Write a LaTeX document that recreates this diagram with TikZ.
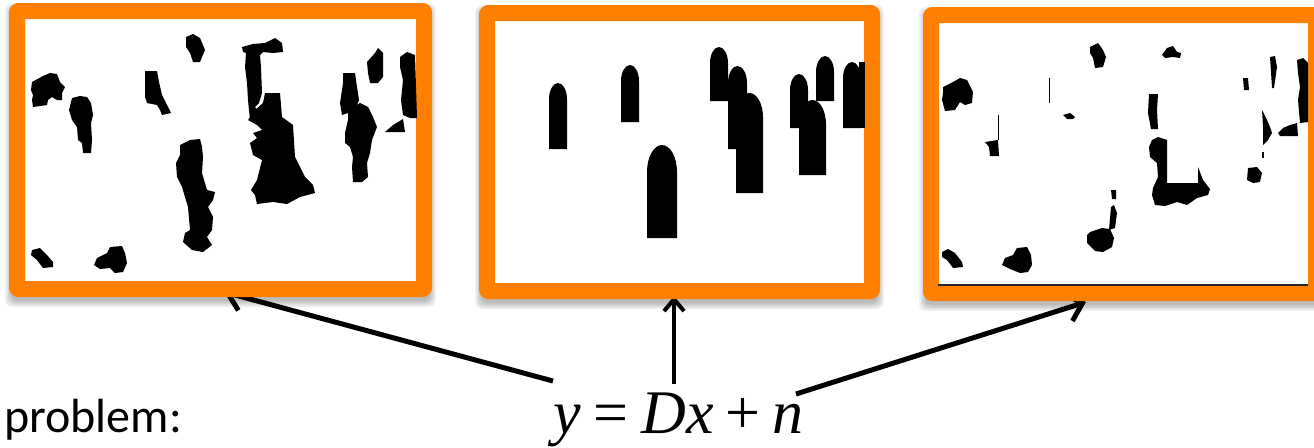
\documentclass[tikz,border=0pt]{standalone}
\usepackage{fontspec}
\newfontfamily\eqfont{Liberation Serif}
\newfontfamily\labfont{Carlito}
\usetikzlibrary{arrows.meta,backgrounds}
\definecolor{frameorange}{RGB}{255,128,0}
\tikzset{
  frame/.style={draw=frameorange, line width=16pt, line join=round, rounded corners=1pt, fill=white, inner sep=0pt, outer sep=0pt},
  shadowpiece/.style={fill=black, fill opacity=0.06, draw=none, rounded corners=7pt},
  blob/.style={fill=black},
  bigarrow/.style={line width=5pt, -{Straight Barb[length=15pt,width=28pt]}},
  smallarrow/.style={line width=4pt, -{Straight Barb[length=12pt,width=20pt]}},
}
\newcommand\tombstone[4]{%
  \fill[blob] (#1,#4) -- (#1,{#2+0.9*#3}) arc[start angle=180,end angle=0,x radius={0.5*#3 pt},y radius={0.9*#3 pt}] -- ({#1+#3},#4) -- cycle;}
\newcommand\softshadow[4]{%
  \foreach \k in {0,1.5,3,4.5,6}{\fill[shadowpiece] ({#1-\k+2},{#2+6-\k}) rectangle ({#3+\k-2},{#4+4+\k});}}
\begin{document}
\begin{tikzpicture}[x=1pt,y=-1pt]
\useasboundingbox (0,0) rectangle (1314,447);

% frames
\node[frame, minimum width=407pt, minimum height=278pt] (f1) at (220.5,150) {};
\node[frame, minimum width=385pt, minimum height=278pt] (f2) at (679.5,152) {};
\node[frame, minimum width=385pt, minimum height=278pt] (f3) at (1123.5,154) {};
\draw[line width=1.5pt, black!85] (f3.south west) ++(7pt,8pt) coordinate (l3a) -- ++(370pt,0pt);

% texts
\node[anchor=base west, inner sep=0pt, font=\labfont\fontsize{48}{52}\selectfont] (prob) at (4,432) {problem:};
\node[anchor=base west, inner sep=0pt, font=\eqfont\fontsize{62}{66}\selectfont] (eq) at (553,433)
  {\itshape y\hspace{13pt}\upshape=\hspace{13pt}\itshape Dx\hspace{12pt}\upshape+\hspace{12pt}\itshape n};

\coordinate (s1) at (553,381);
\coordinate (t1) at (224,292);
\coordinate (s2) at (674,384);
\coordinate (t2) at (674,296);
\coordinate (s3) at (796,394);
\coordinate (t3) at (1086,302);
\begin{pgfonlayer}{background}
\softshadow{9}{3}{432}{297}
\softshadow{479}{5}{880}{299}
\softshadow{923}{7}{1324}{301}
\draw[bigarrow] (s1) -- (t1);
\draw[smallarrow] (s2) -- (t2);
\draw[bigarrow] (s3) -- (t3);
\end{pgfonlayer}

% ---------- left frame blobs ----------
\fill[blob] (32,82)--(43,76)--(50,73)--(57,74)--(60,82)--(65,87)--(62,93)--(62,100)--(57,100)--(52,97)--(48,100)--(47,105)--(33,107)--(32,100)--(33,95)--(31,90)--cycle;
\fill[blob] (72,98)--(80,96)--(87,97)--(91,103)--(93,115)--(91,123)--(92,140)--(91,153)--(83,153)--(82,143)--(78,140)--(77,127)--(72,120)--(69,110)--cycle;
\fill[blob] (145,71)--(157,71)--(159,82)--(162,95)--(167,105)--(171,113)--(162,115)--(160,110)--(157,105)--(147,103)--(145,97)--cycle;
\fill[blob] (186,37)--(193,34)--(200,38)--(205,50)--(200,62)--(193,62)--(190,53)--(186,47)--cycle;
\fill[blob] (180,145)--(190,140)--(200,139)--(202,147)--(203,157)--(202,173)--(207,190)--(215,192)--(213,200)--(208,207)--(213,217)--(212,230)--(207,237)--(212,245)--(203,252)--(192,250)--(183,242)--(185,233)--(190,230)--(188,207)--(182,187)--(177,177)--(176,163)--(180,155)--cycle;
\fill[blob] (242,47)--(253,44)--(265,43)--(275,38)--(282,43)--(283,52)--(273,53)--(263,52)--(260,55)--(261,67)--(262,93)--(259,103)--(255,107)--(257,110)--(250,120)--(248,100)--(247,83)--(245,67)--(246,53)--(243,52)--cycle;
\fill[blob] (265,93)--(280,93)--(282,117)--(293,125)--(295,157)--(305,177)--(313,185)--(315,193)--(300,197)--(287,204)--(273,202)--(257,204)--(255,195)--(251,190)--(257,180)--(262,160)--(253,155)--(250,143)--(257,138)--(253,133)--(262,130)--(257,125)--(248,120)--(255,110)--(263,103)--cycle;
\fill[blob] (343,73)--(355,73)--(357,87)--(359,100)--(357,105)--(348,113)--(342,115)--(340,103)--(342,90)--(343,83)--cycle;
\fill[blob] (348,110)--(360,103)--(368,107)--(373,117)--(377,127)--(372,140)--(370,153)--(367,163)--(368,177)--(362,182)--(353,182)--(352,167)--(353,157)--(350,147)--(345,143)--(345,133)--(348,120)--cycle;
\fill[blob] (367,62)--(375,53)--(378,48)--(383,53)--(383,77)--(378,83)--(370,83)--(368,73)--cycle;
\fill[blob] (400,57)--(407,52)--(415,55)--(417,118)--(410,118)--(403,115)--(401,100)--(403,80)--(400,67)--cycle;
\fill[blob] (385,132)--(393,125)--(403,119)--(405,132)--cycle;
\fill[blob] (32,250)--(40,248)--(47,255)--(53,262)--(53,267)--(43,268)--(37,260)--(31,255)--cycle;
\fill[blob] (97,258)--(107,253)--(110,247)--(122,246)--(125,253)--(127,263)--(123,272)--(115,273)--(110,268)--(100,269)--(94,265)--cycle;

% ---------- middle frame blobs ----------
\tombstone{549}{83}{18}{149}
\tombstone{621}{65}{18}{122}
\tombstone{647}{145}{30}{238}
\tombstone{710}{47}{18}{101}
\tombstone{728}{66}{19}{149}
\tombstone{736}{93}{27}{193}
\tombstone{790}{74}{18}{128}
\tombstone{799}{100}{27}{175}
\tombstone{816}{56}{18}{101}
\tombstone{843}{62}{18}{128}
\fill[blob] (859,62) rectangle (865,128);

% ---------- right frame blobs ----------
\fill[blob] (943,87)--(953,82)--(960,78)--(967,80)--(970,86)--(973,92)--(972,103)--(965,105)--(960,102)--(955,110)--(945,111)--(942,100)--(943,93)--cycle;
\fill[blob] (1090,47)--(1098,43)--(1103,50)--(1106,57)--(1103,67)--(1095,68)--(1093,58)--(1090,53)--cycle;
\fill[blob] (1162,55)--(1167,48)--(1173,46)--(1177,52)--(1181,53)--(1180,58)--(1173,57)--(1165,58)--cycle;
\fill[blob] (985,142)--(998,140)--(999,156)--(990,156)--(989,147)--cycle;
\fill[blob] (997.5,115) rectangle (998.5,140);
\fill[blob] (1048.5,78) rectangle (1049.5,103);
\fill[blob] (1063,115)--(1070,113)--(1075,117)--(1073,119)--(1067,119)--cycle;
\fill[blob] (1149,94)--(1158,94)--(1157,110)--(1158,129)--(1151,129)--(1148,113)--cycle;
\fill[blob] (1152,140)--(1158,137)--(1167,140)--(1167,183)--(1198,183)--(1198,167)--(1203,180)--(1210,189)--(1208,195)--(1197,198)--(1187,205)--(1177,202)--(1165,206)--(1155,205)--(1152,195)--(1153,188)--(1158,177)--(1157,163)--(1150,157)--(1149,147)--cycle;
\fill[blob] (1262,110)--(1267,120)--(1270,127)--(1272,133)--(1268,140)--(1263,145)--(1263,127)--cycle;
\fill[blob] (1262,152) rectangle (1263.5,158);
\fill[blob] (1278,133)--(1283,128)--(1290,125)--(1297,123)--(1298,136)--(1280,136)--cycle;
\fill[blob] (1297,60)--(1303,58)--(1308,63)--(1308,122)--(1300,123)--(1298,100)--(1300,87)--(1298,73)--cycle;
\fill[blob] (1270,57)--(1275,56)--(1277,67)--(1274,88)--(1272,88)--cycle;
\fill[blob] (1243,78)--(1248,78)--(1249,90)--(1244,90)--cycle;
\fill[blob] (1248,168)--(1257,167)--(1262,173)--(1260,182)--(1253,183)--(1247,180)--cycle;
\fill[blob] (1111,190)--(1116,190)--(1116,199)--(1112,199)--cycle;
\fill[blob] (1111,207)--(1114,205)--(1117,213)--(1115,228)--(1109,230)--cycle;
\fill[blob] (1090,232)--(1102,228)--(1110,229)--(1114,238)--(1112,247)--(1103,252)--(1095,251)--(1087,243)--(1087,235)--cycle;
\fill[blob] (942,252)--(948,249)--(955,253)--(962,262)--(963,267)--(953,268)--(947,260)--(942,257)--cycle;
\fill[blob] (1005,258)--(1013,255)--(1017,248)--(1027,247)--(1031,255)--(1032,265)--(1028,272)--(1020,273)--(1010,269)--(1002,265)--cycle;
\end{tikzpicture}
\end{document}
